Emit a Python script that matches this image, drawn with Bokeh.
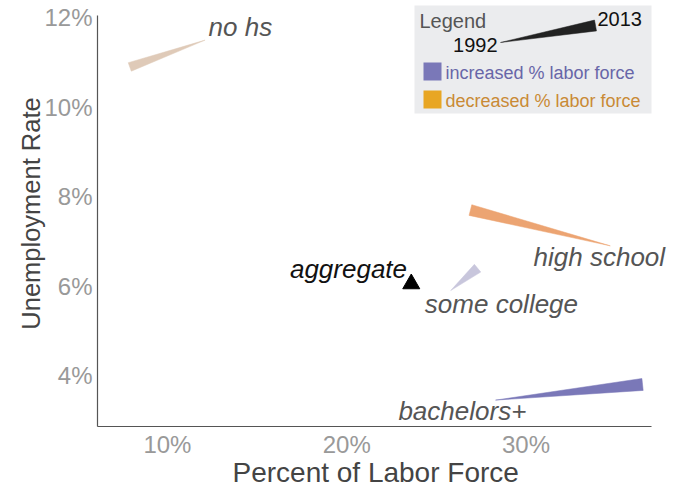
import math
from bokeh.plotting import figure
from bokeh.models import FixedTicker, Range1d, Title
from bokeh.core.properties import value
from bokeh.embed import file_html
from bokeh.resources import INLINE

# ---------------- data ----------------
groups = ["no hs", "high school", "some college", "bachelors+"]
share_1992 = [12.1, 34.7, 25.8, 28.3]
share_2013 = [7.9, 26.9, 27.3, 36.5]
unemp_1992 = [11.5, 6.9, 5.9, 3.45]
unemp_2013 = [10.9, 7.7, 6.4, 3.8]
agg_label = ["aggregate"]
agg_share = [23.6]
agg_unemp = [6.05]
x_ticks = [10, 20, 30]
y_ticks = [4, 6, 8, 10, 12]
legend_years = ["1992", "2013"]
legend_items = ["increased % labor force", "decreased % labor force"]

# ---------------- style ----------------
colors = ["#dfcab8", "#eca472", "#c8c6dc", "#7a78b8"]
widths = [9, 11, 10, 12]
label_pos = [(14.07, 11.8), (34.09, 6.66), (28.63, 5.6), (26.45, 3.21)]
FONT = value("Liberation Sans")

XA0, XA1 = 6.1, 37.0          # extent of the drawn x axis
Y0 = 2.86
YA1 = 12.05                   # top of the drawn y axis
sx = 554 / (XA1 - XA0)        # px per unit
sy = 44.72
FL, FB = 97, 426              # frame left / bottom (page px)
W, H = 674, 486
FW = W - FL
FH = FB
X0, X1 = XA0, XA0 + FW / sx
Y1 = Y0 + FH / sy


def wedge(xa, ya, xb, yb, w):
    ax, ay, bx, by = xa * sx, ya * sy, xb * sx, yb * sy
    dx, dy = bx - ax, by - ay
    L = math.hypot(dx, dy)
    nx, ny = -dy / L, dx / L
    xs = [ax, bx + nx * w / 2, bx - nx * w / 2]
    ys = [ay, by + ny * w / 2, by - ny * w / 2]
    return [v / sx for v in xs], [v / sy for v in ys]


def px(xp):  # page pixel -> data x (for decorations)
    return X0 + (xp - FL) / sx


def py(yp):
    return Y0 + (FB - yp) / sy


p = figure(width=W, height=H, output_backend="svg", toolbar_location=None,
           x_range=Range1d(X0, X1), y_range=Range1d(Y0, Y1),
           min_border_left=FL, min_border_right=0, min_border_top=0,
           min_border_bottom=H - FB)
p.outline_line_color = None
p.grid.visible = False
p.background_fill_color = "white"

# axes
for ax in (p.xaxis, p.yaxis):
    ax.axis_line_color = "#555555"
    ax.axis_line_width = 1.2
    ax.major_tick_line_color = None
    ax.minor_tick_line_color = None
    ax.major_tick_out = 0
    ax.major_tick_in = 0
    ax.minor_tick_out = 0
    ax.minor_tick_in = 0
    ax.major_label_text_font = "Liberation Sans"
    ax.major_label_text_font_size = "24px"
    ax.major_label_text_color = "#999999"
    ax.axis_label_text_font = "Liberation Sans"
    ax.axis_label_text_font_style = "normal"
    ax.axis_label_text_color = "#444444"
p.yaxis.axis_label_text_font_size = "25.5px"
p.xaxis.ticker = FixedTicker(ticks=x_ticks)
p.yaxis.ticker = FixedTicker(ticks=y_ticks)
p.xaxis.major_label_overrides = {t: f"{t}%" for t in x_ticks}
p.yaxis.major_label_overrides = {t: f"{t}%" for t in y_ticks}
p.yaxis.axis_label = "Unemployment Rate"
p.xaxis.major_label_standoff = 4
p.yaxis.major_label_standoff = 5
p.yaxis.axis_label_standoff = -4
p.xaxis.bounds = (XA0, XA1)
p.yaxis.bounds = (Y0, YA1)

# x axis title, centred under the drawn axis (not under the wider frame)
p.add_layout(Title(text="Percent of Labor Force", align="left", offset=135,
                   standoff=-10, vertical_align="middle",
                   text_font="Liberation Sans", text_font_size="28px",
                   text_font_style="normal", text_color="#444444"), "below")

# wedges
wx, wy = [], []
for i in range(len(groups)):
    xs, ys = wedge(share_1992[i], unemp_1992[i], share_2013[i], unemp_2013[i], widths[i])
    wx.append(xs)
    wy.append(ys)
p.patches(wx, wy, fill_color=colors, line_color=colors, line_width=0.5)

# aggregate
p.scatter(agg_share, agg_unemp, marker="triangle", size=17, color="black")
p.text([20.1], [6.39], text=agg_label, text_font=FONT, text_font_style="italic",
       text_font_size="26px", text_color="#111111", text_align="center",
       text_baseline="middle")

# group labels
p.text([lp[0] for lp in label_pos], [lp[1] for lp in label_pos], text=groups,
       text_font=FONT, text_font_style="italic", text_font_size="26px",
       text_color="#555555", text_align="center", text_baseline="middle")

# legend (decoration)
p.quad(left=[px(414)], right=[px(651)], bottom=[py(113)], top=[py(5)],
       fill_color="#ebecee", line_color=None)
p.text([px(419)], [py(20)], text=["Legend"], text_font=FONT, text_font_size="20px",
       text_color="#555555", text_baseline="middle")
lx, ly = wedge(px(500), py(42), px(595), py(25), 11)
p.patch(lx, ly, fill_color="#222222", line_color="#222222", line_width=0.5)
p.text([px(497)], [py(44)], text=[legend_years[0]], text_font=FONT,
       text_font_size="20px", text_color="#111111", text_align="right",
       text_baseline="middle")
p.text([px(597)], [py(18)], text=[legend_years[1]], text_font=FONT,
       text_font_size="20px", text_color="#111111", text_align="left",
       text_baseline="middle")
p.quad(left=[px(423)] * 2, right=[px(441)] * 2, bottom=[py(80), py(108)],
       top=[py(62), py(90)], fill_color=["#7a78b8", "#e8a623"], line_color=None)
p.text([px(445)] * 2, [py(72), py(100)], text=legend_items, text_font=FONT,
       text_font_size="18px", text_color=["#6866a8", "#c98a35"],
       text_baseline="middle")

open("out.html", "w").write(file_html(p, INLINE))
